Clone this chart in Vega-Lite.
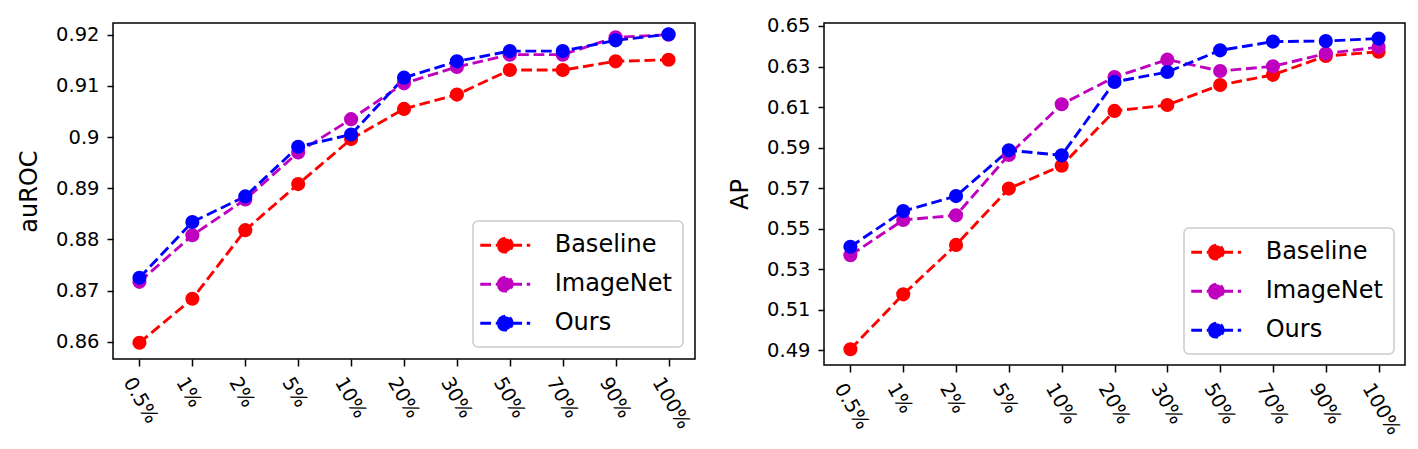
{
  "$schema": "https://vega.github.io/schema/vega-lite/v6.json",
  "background": "white",
  "padding": {"left": 16, "top": 15, "right": 0, "bottom": 0},
  "spacing": 31,
  "config": {
    "font": "DejaVu Sans",
    "view": {"stroke": "#000000", "strokeWidth": 1.5},
    "axis": {"grid": false, "domain": false, "tickColor": "#000000", "tickWidth": 1.5, "tickSize": 7, "labelColor": "#000000", "labelFontSize": 19.5, "titleColor": "#000000", "titleFontSize": 24, "titleFontWeight": "normal", "labelFont": "DejaVu Sans", "titleFont": "DejaVu Sans"},
    "axisY": {"tickSize": 6, "labelPadding": 8, "titlePadding": 14},
    "axisX": {"labelAngle": 60, "labelAlign": "left", "labelBaseline": "top", "labelPadding": 8, "labelOffset": -4},
    "legend": {
      "title": null,
      "orient": "bottom-right",
      "symbolType": "M-2.08,0H2.08M-0.58,0A0.58,0.58,0,1,1,0.58,0A0.58,0.58,0,1,1,-0.58,0Z",
      "symbolSize": 576,
      "symbolStrokeWidth": 2.9,
      "symbolDash": [10.8, 4.7],
      "symbolOffset": 8,
      "symbolOpacity": 1,
      "labelOffset": 36,
      "labelFontSize": 24,
      "labelColor": "#000000",
      "labelFont": "DejaVu Sans",
      "rowPadding": 12,
      "padding": 10.7,
      "strokeColor": "#cccccc",
      "strokeWidth": 1.5,
      "cornerRadius": 5,
      "fillColor": "rgba(255,255,255,0.8)"
    }
  },
  "datasets": {
    "auroc": [
      {"ratio": "0.5%", "method": "Baseline", "value": 0.8598},
      {"ratio": "1%", "method": "Baseline", "value": 0.8684},
      {"ratio": "2%", "method": "Baseline", "value": 0.8818},
      {"ratio": "5%", "method": "Baseline", "value": 0.8908},
      {"ratio": "10%", "method": "Baseline", "value": 0.8996},
      {"ratio": "20%", "method": "Baseline", "value": 0.9055},
      {"ratio": "30%", "method": "Baseline", "value": 0.9083},
      {"ratio": "50%", "method": "Baseline", "value": 0.9131},
      {"ratio": "70%", "method": "Baseline", "value": 0.9131},
      {"ratio": "90%", "method": "Baseline", "value": 0.9148},
      {"ratio": "100%", "method": "Baseline", "value": 0.9151},
      {"ratio": "0.5%", "method": "ImageNet", "value": 0.8717},
      {"ratio": "1%", "method": "ImageNet", "value": 0.8808},
      {"ratio": "2%", "method": "ImageNet", "value": 0.8878},
      {"ratio": "5%", "method": "ImageNet", "value": 0.8970},
      {"ratio": "10%", "method": "ImageNet", "value": 0.9035},
      {"ratio": "20%", "method": "ImageNet", "value": 0.9105},
      {"ratio": "30%", "method": "ImageNet", "value": 0.9137},
      {"ratio": "50%", "method": "ImageNet", "value": 0.9161},
      {"ratio": "70%", "method": "ImageNet", "value": 0.9161},
      {"ratio": "90%", "method": "ImageNet", "value": 0.9195},
      {"ratio": "100%", "method": "ImageNet", "value": 0.9200},
      {"ratio": "0.5%", "method": "Ours", "value": 0.8725},
      {"ratio": "1%", "method": "Ours", "value": 0.8834},
      {"ratio": "2%", "method": "Ours", "value": 0.8884},
      {"ratio": "5%", "method": "Ours", "value": 0.8981},
      {"ratio": "10%", "method": "Ours", "value": 0.9005},
      {"ratio": "20%", "method": "Ours", "value": 0.9116},
      {"ratio": "30%", "method": "Ours", "value": 0.9148},
      {"ratio": "50%", "method": "Ours", "value": 0.9168},
      {"ratio": "70%", "method": "Ours", "value": 0.9168},
      {"ratio": "90%", "method": "Ours", "value": 0.9189},
      {"ratio": "100%", "method": "Ours", "value": 0.9201}
    ],
    "ap": [
      {"ratio": "0.5%", "method": "Baseline", "value": 0.4905},
      {"ratio": "1%", "method": "Baseline", "value": 0.5176},
      {"ratio": "2%", "method": "Baseline", "value": 0.5420},
      {"ratio": "5%", "method": "Baseline", "value": 0.5698},
      {"ratio": "10%", "method": "Baseline", "value": 0.5811},
      {"ratio": "20%", "method": "Baseline", "value": 0.6081},
      {"ratio": "30%", "method": "Baseline", "value": 0.6110},
      {"ratio": "50%", "method": "Baseline", "value": 0.6209},
      {"ratio": "70%", "method": "Baseline", "value": 0.6259},
      {"ratio": "90%", "method": "Baseline", "value": 0.6352},
      {"ratio": "100%", "method": "Baseline", "value": 0.6373},
      {"ratio": "0.5%", "method": "ImageNet", "value": 0.5369},
      {"ratio": "1%", "method": "ImageNet", "value": 0.5543},
      {"ratio": "2%", "method": "ImageNet", "value": 0.5566},
      {"ratio": "5%", "method": "ImageNet", "value": 0.5864},
      {"ratio": "10%", "method": "ImageNet", "value": 0.6114},
      {"ratio": "20%", "method": "ImageNet", "value": 0.6248},
      {"ratio": "30%", "method": "ImageNet", "value": 0.6334},
      {"ratio": "50%", "method": "ImageNet", "value": 0.6278},
      {"ratio": "70%", "method": "ImageNet", "value": 0.6301},
      {"ratio": "90%", "method": "ImageNet", "value": 0.6364},
      {"ratio": "100%", "method": "ImageNet", "value": 0.6396},
      {"ratio": "0.5%", "method": "Ours", "value": 0.5411},
      {"ratio": "1%", "method": "Ours", "value": 0.5587},
      {"ratio": "2%", "method": "Ours", "value": 0.5661},
      {"ratio": "5%", "method": "Ours", "value": 0.5887},
      {"ratio": "10%", "method": "Ours", "value": 0.5862},
      {"ratio": "20%", "method": "Ours", "value": 0.6224},
      {"ratio": "30%", "method": "Ours", "value": 0.6273},
      {"ratio": "50%", "method": "Ours", "value": 0.6380},
      {"ratio": "70%", "method": "Ours", "value": 0.6423},
      {"ratio": "90%", "method": "Ours", "value": 0.6426},
      {"ratio": "100%", "method": "Ours", "value": 0.6438}
    ]
  },
  "resolve": {"scale": {"color": "independent"}, "legend": {"color": "independent"}},
  "hconcat": [
    {
      "width": 582,
      "height": 336,
      "data": {"name": "auroc"},
      "encoding": {
        "x": {"field": "ratio", "type": "ordinal", "sort": ["0.5%", "1%", "2%", "5%", "10%", "20%", "30%", "50%", "70%", "90%", "100%"], "scale": {"type": "point", "padding": 0.5}, "axis": {"title": null}},
        "y": {"field": "value", "type": "quantitative", "scale": {"domain": [0.85662, 0.92229], "nice": false, "zero": false}, "axis": {"title": "auROC", "values": [0.86, 0.87, 0.88, 0.89, 0.9, 0.91, 0.92], "format": "~g"}},
        "color": {
          "field": "method", "type": "nominal",
          "scale": {"domain": ["Baseline", "ImageNet", "Ours"], "range": ["#ff0000", "#bf00bf", "#0000ff"]},
          "legend": {
            "offset": 12,
            "encode": {"symbols": {"update": {
              "fill": {"signal": "datum.value === 'Baseline' ? '#ff0000' : datum.value === 'ImageNet' ? '#bf00bf' : '#0000ff'"},
              "stroke": {"signal": "datum.value === 'Baseline' ? '#ff0000' : datum.value === 'ImageNet' ? '#bf00bf' : '#0000ff'"},
              "opacity": {"value": 1}
            }}}
          }
        }
      },
      "layer": [
        {"mark": {"type": "line", "strokeWidth": 2.9, "strokeDash": [10.8, 4.7]}},
        {"mark": {"type": "point", "filled": true, "size": 200, "opacity": 1}}
      ]
    },
    {
      "width": 581,
      "height": 342,
      "data": {"name": "ap"},
      "encoding": {
        "x": {"field": "ratio", "type": "ordinal", "sort": ["0.5%", "1%", "2%", "5%", "10%", "20%", "30%", "50%", "70%", "90%", "100%"], "scale": {"type": "point", "padding": 0.5}, "axis": {"title": null}},
        "y": {"field": "value", "type": "quantitative", "scale": {"domain": [0.48275, 0.65148], "nice": false, "zero": false}, "axis": {"title": "AP", "values": [0.49, 0.51, 0.53, 0.55, 0.57, 0.59, 0.61, 0.63, 0.65], "format": "~g"}},
        "color": {
          "field": "method", "type": "nominal",
          "scale": {"domain": ["Baseline", "ImageNet", "Ours"], "range": ["#ff0000", "#bf00bf", "#0000ff"]},
          "legend": {
            "offset": 11,
            "encode": {"symbols": {"update": {
              "fill": {"signal": "datum.value === 'Baseline' ? '#ff0000' : datum.value === 'ImageNet' ? '#bf00bf' : '#0000ff'"},
              "stroke": {"signal": "datum.value === 'Baseline' ? '#ff0000' : datum.value === 'ImageNet' ? '#bf00bf' : '#0000ff'"},
              "opacity": {"value": 1}
            }}}
          }
        }
      },
      "layer": [
        {"mark": {"type": "line", "strokeWidth": 2.9, "strokeDash": [10.8, 4.7]}},
        {"mark": {"type": "point", "filled": true, "size": 200, "opacity": 1}}
      ]
    }
  ]
}
